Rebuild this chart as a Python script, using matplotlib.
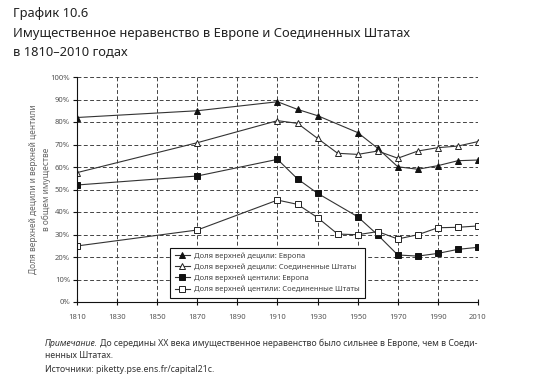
import matplotlib
matplotlib.use("Agg")
import matplotlib.pyplot as plt
from matplotlib.ticker import MultipleLocator, FuncFormatter

plt.rcParams['font.family'] = ['Noto Sans', 'DejaVu Sans']

years_a = [1810, 1870, 1910, 1920, 1930, 1950, 1960, 1970, 1980, 1990, 2000, 2010]
years_b = [1810, 1870, 1910, 1920, 1930, 1940, 1950, 1960, 1970, 1980, 1990, 2000, 2010]

decile_europe = [82, 85, 89, 85.6, 82.8, 75.3, 68.3, 60.1, 59, 60.6, 62.8, 63.1]
decile_us = [57.5, 70.8, 80.6, 79.4, 72.7, 66.1, 65.6, 67.1, 63.9, 67.1, 68.6, 69.3, 71.3]
centile_europe = [52, 56, 63.4, 54.7, 48.3, 37.9, 29.8, 20.9, 20.4, 21.6, 23.4, 24.3]
centile_us = [24.9, 32, 45.3, 43.4, 37.5, 30.2, 29.9, 31.3, 28, 29.9, 33, 33.2, 33.8]

labels = ["Доля верхней децили: Европа",
          "Доля верхней децили: Соединенные Штаты",
          "Доля верхней центили: Европа",
          "Доля верхней центили: Соединенные Штаты"]

xticks = list(range(1810, 2011, 20))

fig = plt.figure(figsize=(5.38, 3.85), dpi=100)
ax = fig.add_axes([77/538, 1-302/385, 401/538, 225/385])

lc = '#333333'
kw = dict(color=lc, lw=0.8, markersize=4.8, markeredgewidth=0.7)
ax.plot(years_a, decile_europe, marker='^', mfc='#111111', mec='#111111', label=labels[0], **kw)
ax.plot(years_b, decile_us, marker='^', mfc='white', mec='#222222', label=labels[1], **kw)
ax.plot(years_a, centile_europe, marker='s', mfc='#111111', mec='#111111', label=labels[2], **kw)
ax.plot(years_b, centile_us, marker='s', mfc='white', mec='#222222', label=labels[3], **kw)

ax.set_xlim(1810, 2010)
ax.set_ylim(0, 100)
ax.set_xticks(xticks)
ax.yaxis.set_major_locator(MultipleLocator(10))
ax.yaxis.set_major_formatter(FuncFormatter(lambda v, p: f"{int(v)}%"))
ax.grid(True, linestyle=(0, (4, 2.5)), color='#444444', linewidth=0.7)
ax.set_axisbelow(True)
for s in ['top', 'right']:
    ax.spines[s].set_visible(False)
for s in ['left', 'bottom']:
    ax.spines[s].set_linewidth(0.8)
    ax.spines[s].set_color('#111111')
ax.tick_params(axis='both', labelsize=5.5, colors='#111111', labelcolor='#555555', width=0.8)
ax.tick_params(axis='x', direction='inout', length=5, pad=6)
ax.tick_params(axis='y', direction='out', length=3, pad=2)
ax.set_ylabel("Доля верхней децили и верхней центили\nв общем имуществе", fontsize=6,
              color='#666666', labelpad=-0.5, linespacing=1.5)

leg = ax.legend(loc='lower left', bbox_to_anchor=(0.232, 0.018), fontsize=5.45,
                frameon=True, fancybox=False, borderpad=0.6, labelspacing=0.5,
                handlelength=2.0, handletextpad=0.6, labelcolor='#444444',
                borderaxespad=0)
leg.get_frame().set_edgecolor('#111111')
leg.get_frame().set_linewidth(0.8)
leg.get_frame().set_alpha(1)

tfs = 9.3
fig.text(13/538, 1-14/385, "График 10.6", fontsize=tfs, color='#222222', va='center', ha='left')
fig.text(13/538, 1-33/385, "Имущественное неравенство в Европе и Соединенных Штатах",
         fontsize=tfs, color='#222222', va='center', ha='left')
fig.text(13/538, 1-52/385, "в 1810–2010 годах", fontsize=tfs, color='#222222', va='center', ha='left')

nfs = 6.3
t1 = fig.text(45/538, 1-343/385, "Примечание.", fontsize=nfs, style='italic', color='#333333',
              va='center', ha='left')
fig.canvas.draw()
bb = t1.get_window_extent()
fig.text(bb.x1/538 + 0.004, 1-343/385,
         "До середины XX века имущественное неравенство было сильнее в Европе, чем в Соеди-",
         fontsize=nfs, color='#333333', va='center', ha='left')
fig.text(45/538, 1-356/385, "ненных Штатах.", fontsize=nfs, color='#333333', va='center', ha='left')
fig.text(45/538, 1-370/385, "Источники: piketty.pse.ens.fr/capital21c.", fontsize=nfs,
         color='#333333', va='center', ha='left')

fig.savefig("out.png", dpi=100)
